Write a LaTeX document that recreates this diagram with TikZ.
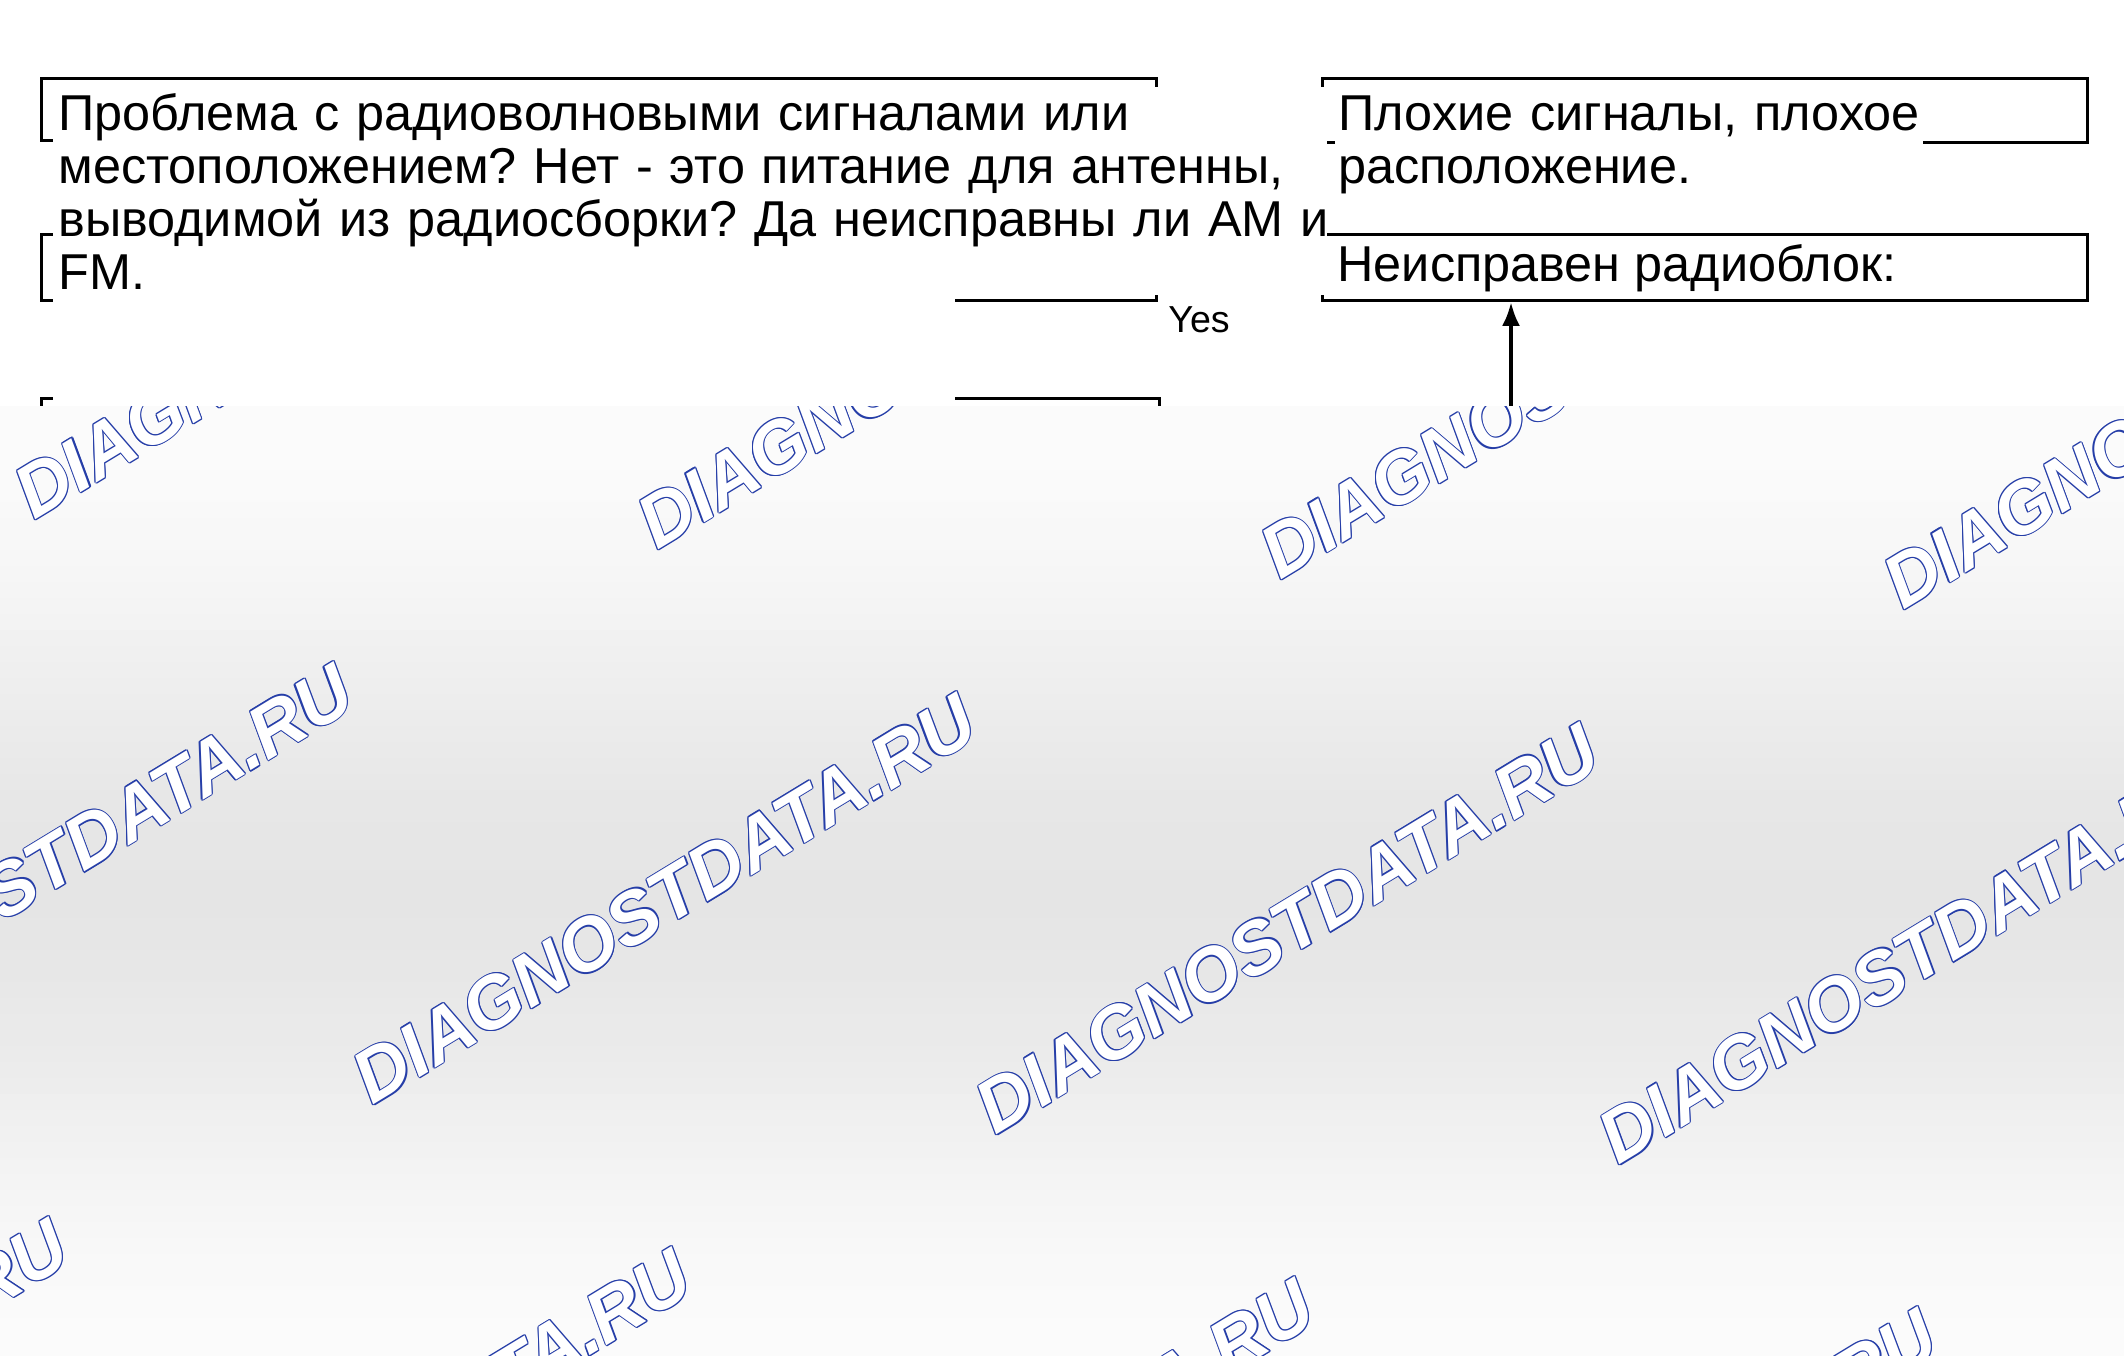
\documentclass[tikz,border=0pt]{standalone}
\usepackage{fontspec}
\setmainfont{Liberation Sans}
\usetikzlibrary{arrows.meta}
\definecolor{wmblue}{RGB}{38,62,168}
\tikzstyle{frame}=[draw,line width=1.4pt,inner sep=0pt,anchor=north west]
\tikzstyle{flowtext}=[fill=white,inner xsep=2.5pt,inner ysep=3pt,anchor=base west,align=left,font=\fontsize{25.2}{26.5}\selectfont\frenchspacing]
\tikzstyle{branch}=[font=\fontsize{18.8}{20}\selectfont,anchor=base west,inner sep=0pt]
\tikzstyle{edge}=[draw,line width=2.2pt,-{Latex[length=12pt,width=9pt]}]
\tikzstyle{watermark}=[font=\fontsize{37}{40}\selectfont\bfseries\itshape,rotate=31.3,anchor=base west,inner sep=0pt]

\begin{document}
\begin{tikzpicture}[x=0.5pt,y=-0.5pt]
	\useasboundingbox (0,0) rectangle (2124,1355);
	\fill[white] (0,0) rectangle (2124,1355);

	% First we draw the frames of the blocks
	\foreach \pos/\name/\w/\h in {{(40,77)/boxA/557.5/31}, {(40,233)/boxB/557.5/33},
								{(1321,77)/boxC/382.5/32}, {(1321,233)/boxD/382.5/33},
								{(40,397)/boxE/559/40}}
		\node[frame,minimum width=\w pt,minimum height=\h pt] (\name) at \pos {};

	% hidden text frame of the lower block
	\fill[white] (53,295) rectangle (955,406);

	% Texts of the blocks
	\node[flowtext,text width=632pt] (askpower) at (53,130)
		{\mbox{Проблема с радиоволновыми сигналами или}\\\mbox{местоположением? Нет - это питание для антенны,}\\\mbox{выводимой из радиосборки? Да неисправны ли АМ и}\\FM.};
	\node[flowtext,inner xsep=1.5pt,text width=291pt] (badsignal) at (1335,130)
		{\mbox{Плохие сигналы, плохое}\\расположение.};
	\node[flowtext,inner xsep=1.5pt,fill=none] (faultunit) at (1334,281) {Неисправен радиоблок:};
	\node[branch] (yes) at (1168,332) {Yes};

	% Connect the lower block with the radio unit
	\coordinate (feed) at (1511,430);
	\path[edge] (feed) -- (feed |- boxD.south);

	% Overlay with the watermark
	\begin{scope}
		\clip (0,406) rectangle (2124,1355);
		\foreach \y in {406,422,...,1355}
		{
			\pgfmathsetmacro\shadeval{1.5+8.5*sin((\y-406)/949*180)*sin((\y-406)/949*180)}
			\fill[black!\shadeval!white] (0,\y) rectangle (2124,\y+17);
		}
		\foreach \pos/\n in {{(34,521)/1}, {(657,551)/2}, {(1280,581)/3}, {(1903,611)/4},
							{(-250.5,1076)/5}, {(372.5,1106)/6}, {(995.5,1136)/7}, {(1618.5,1166)/8},
							{(-535,1631)/9}, {(88,1661)/10}, {(711,1691)/11}, {(1334,1721)/12}}
		{
			\foreach \a in {0,45,...,315}
				\node[watermark,text=wmblue,shift={(\a:0.6pt)}] (wmo-\n-\a) at \pos {DIAGNOSTDATA.RU};
			\node[watermark,text=white] (wm-\n) at \pos {DIAGNOSTDATA.RU};
		}
	\end{scope}
\end{tikzpicture}
\end{document}
